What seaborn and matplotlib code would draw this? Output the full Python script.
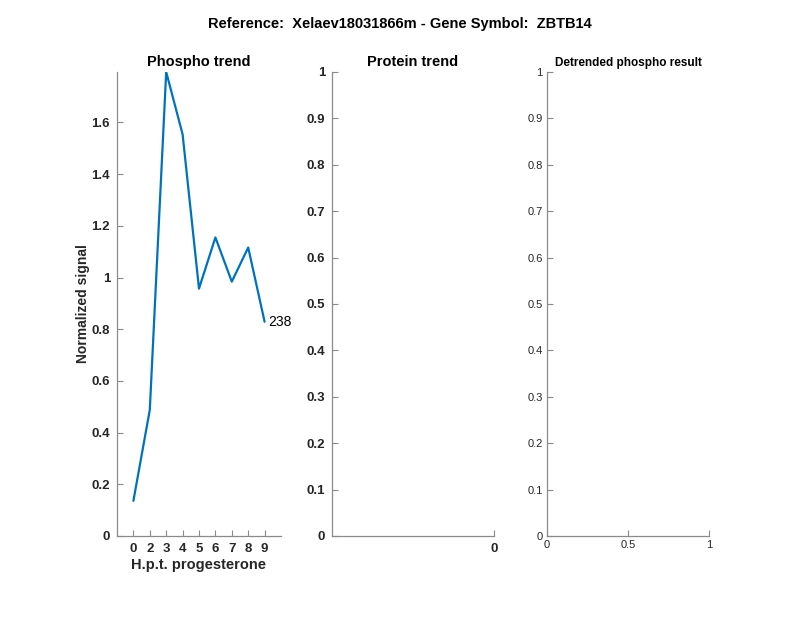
import numpy as np
import pandas as pd
import matplotlib
matplotlib.use('Agg')
import matplotlib.pyplot as plt
import seaborn as sns

# Data
time_labels = ['0', '2', '3', '4', '5', '6', '7', '8', '9']
phospho_signal = [0.136, 0.488, 1.795, 1.554, 0.957, 1.155, 0.984, 1.116, 0.829]
peptide_count = '238'

sns.set_theme(style='white')
plt.rcParams['font.family'] = ['Liberation Sans', 'DejaVu Sans']

AX_COLOR = '#8a8a8a'
TXT_COLOR = '#262626'

df = pd.DataFrame({
    'pos': np.arange(1, len(time_labels) + 1),
    'signal': phospho_signal,
})

fig = plt.figure(figsize=(8, 6.18), dpi=100)
W, H = 800, 618


def add_axes(x0, x1, y0=72, y1=536):
    return fig.add_axes([x0 / W, 1 - y1 / H, (x1 - x0) / W, (y1 - y0) / H])


def style_axes(ax, size, weight):
    for side in ['top', 'right']:
        ax.spines[side].set_visible(False)
    for side in ['left', 'bottom']:
        ax.spines[side].set_color(AX_COLOR)
        ax.spines[side].set_linewidth(0.9)
    ax.tick_params(bottom=True, left=True, direction='in', length=4, width=0.8,
                   color=AX_COLOR, labelcolor=TXT_COLOR, labelsize=size, pad=5)
    for lbl in ax.get_xticklabels() + ax.get_yticklabels():
        lbl.set_fontweight(weight)
    ax.set_facecolor('white')


# Panel 1: phospho trend
ax1 = add_axes(117, 281)
sns.lineplot(data=df, x='pos', y='signal', color='#0072BD', linewidth=1.6, ax=ax1)
ax1.set_xlim(0, 10)
ax1.set_ylim(0, max(phospho_signal))
ax1.set_xticks(df['pos'])
ax1.set_xticklabels(time_labels)
ax1.set_yticks(np.arange(0, 1.7, 0.2))
ax1.set_yticklabels(['0', '0.2', '0.4', '0.6', '0.8', '1', '1.2', '1.4', '1.6'])
style_axes(ax1, 9.5, 'bold')
ax1.set_xlabel('H.p.t. progesterone', fontsize=10.5, fontweight='bold', color=TXT_COLOR, labelpad=2)
ax1.set_ylabel('Normalized signal', fontsize=10, fontweight='bold', color=TXT_COLOR, labelpad=1)
ax1.set_title('Phospho trend', fontsize=10.5, fontweight='bold', color='black', pad=4)
ax1.text(df['pos'].iloc[-1] + 0.25, phospho_signal[-1], peptide_count,
         fontsize=10, color='black', va='center', ha='left')

# Panel 2: protein trend (empty)
ax2 = add_axes(332, 494)
ax2.set_xlim(-1, 0)
ax2.set_ylim(0, 1)
ax2.set_xticks([0])
ax2.set_xticklabels(['0'])
ax2.set_yticks(np.arange(0, 1.01, 0.1))
ax2.set_yticklabels(['0', '0.1', '0.2', '0.3', '0.4', '0.5', '0.6', '0.7', '0.8', '0.9', '1'])
style_axes(ax2, 9.5, 'bold')
ax2.set_title('Protein trend', fontsize=10.5, fontweight='bold', color='black', pad=4)

# Panel 3: detrended phospho result (empty)
ax3 = add_axes(547, 709)
ax3.set_xlim(0, 1)
ax3.set_ylim(0, 1)
ax3.set_xticks([0, 0.5, 1])
ax3.set_xticklabels(['0', '0.5', '1'])
ax3.set_yticks(np.arange(0, 1.01, 0.1))
ax3.set_yticklabels(['0', '0.1', '0.2', '0.3', '0.4', '0.5', '0.6', '0.7', '0.8', '0.9', '1'])
style_axes(ax3, 8, 'normal')
ax3.tick_params(pad=3)
ax3.set_title('Detrended phospho result', fontsize=8.5, fontweight='bold', color='black', pad=4)

fig.text(0.5, 1 - 24 / H, 'Reference:  Xelaev18031866m - Gene Symbol:  ZBTB14',
         ha='center', va='center', fontsize=10.5, fontweight='bold', color='black')

fig.savefig('out.png', dpi=100, facecolor='white')
